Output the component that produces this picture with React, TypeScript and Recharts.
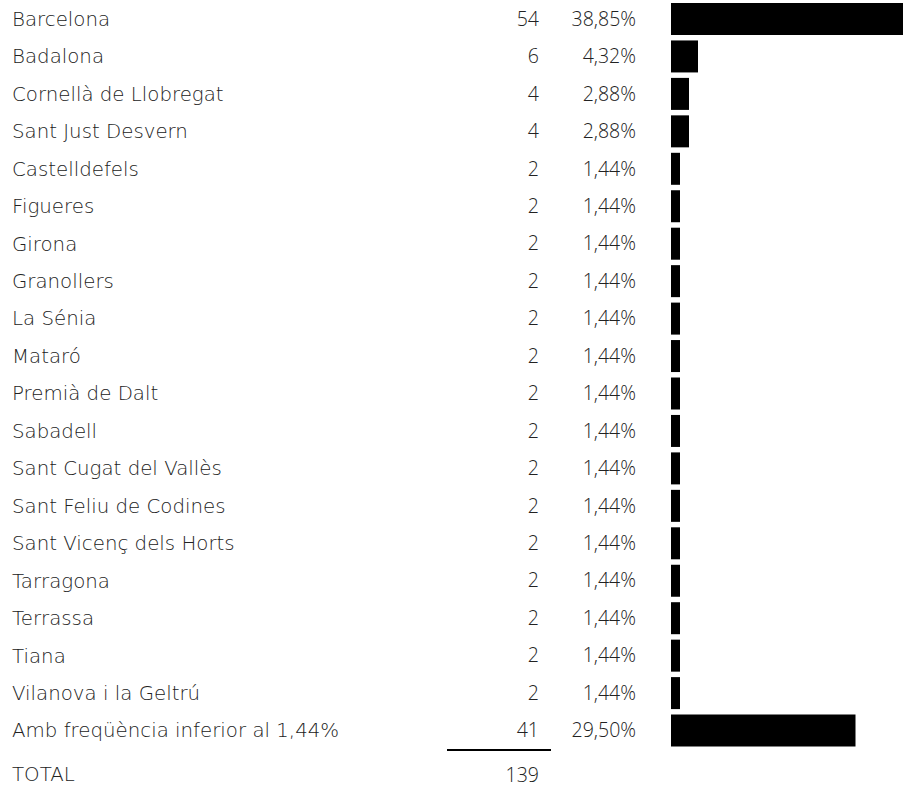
import { Bar, BarChart, XAxis, YAxis } from "recharts";

const cities = [
  "Barcelona",
  "Badalona",
  "Cornellà de Llobregat",
  "Sant Just Desvern",
  "Castelldefels",
  "Figueres",
  "Girona",
  "Granollers",
  "La Sénia",
  "Mataró",
  "Premià de Dalt",
  "Sabadell",
  "Sant Cugat del Vallès",
  "Sant Feliu de Codines",
  "Sant Vicenç dels Horts",
  "Tarragona",
  "Terrassa",
  "Tiana",
  "Vilanova i la Geltrú",
  "Amb freqüència inferior al 1,44%",
];
const counts = [54, 6, 4, 4, 2, 2, 2, 2, 2, 2, 2, 2, 2, 2, 2, 2, 2, 2, 2, 41];
const percents = [
  38.85, 4.32, 2.88, 2.88, 1.44, 1.44, 1.44, 1.44, 1.44, 1.44, 1.44, 1.44, 1.44,
  1.44, 1.44, 1.44, 1.44, 1.44, 1.44, 29.5,
];
const totalLabel = "TOTAL";
const totalCount = 139;

const rows = cities.map((name, i) => ({ name, count: counts[i], pct: percents[i] }));

const fmtPct = (v: number) => v.toFixed(2).replace(".", ",") + "%";

const LABEL_FONT = "'DejaVu Sans', sans-serif";
const NUM_FONT = "'Open Sans', sans-serif";
const TEXT = "#222";

function RowTick(props: any) {
  const { y, payload } = props;
  const row = rows[payload.index];
  if (!row) return null;
  return (
    <g>
      <text x={12} y={y} dy="0.36em" textAnchor="start" fontFamily={LABEL_FONT} fontSize={19.8} fontWeight={300} fill={TEXT}>
        {row.name}
      </text>
      <text x={539} y={y} dy="0.36em" textAnchor="end" fontFamily={NUM_FONT} fontSize={19.5} fontWeight={300} fill="#222">
        {row.count}
      </text>
      <text x={636} y={y} dy="0.36em" textAnchor="end" fontFamily={NUM_FONT} fontSize={19.5} fontWeight={300} fill="#222">
        {fmtPct(row.pct)}
      </text>
    </g>
  );
}

export default function App() {
  return (
    <div
      style={{
        position: "absolute",
        left: 0,
        top: 0,
        width: 903,
        height: 787,
        overflow: "hidden",
        background: "#fff",
      }}
    >
      <BarChart
        layout="vertical"
        width={914}
        height={749}
        data={rows}
        margin={{ top: 0, right: 0, left: 0, bottom: 0 }}
      >
        <XAxis type="number" hide domain={[0, 54]} />
        <YAxis
          type="category"
          dataKey="name"
          width={671}
          axisLine={false}
          tickLine={false}
          interval={0}
          tick={<RowTick />}
        />
        <Bar dataKey="count" fill="#000" barSize={32} isAnimationActive={false} />
      </BarChart>
      <div style={{ position: "absolute", left: 447, top: 749, width: 104, height: 2, background: "#000" }} />
      <div
        style={{
          position: "absolute",
          left: 12,
          top: 763,
          fontFamily: LABEL_FONT,
          fontSize: 19.8,
          fontWeight: 300,
          color: TEXT,
          lineHeight: "24px",
        }}
      >
        {totalLabel}
      </div>
      <div
        style={{
          position: "absolute",
          right: 903 - 539,
          top: 763,
          fontFamily: NUM_FONT,
          fontSize: 19.5,
          fontWeight: 300,
          color: "#222",
          lineHeight: "24px",
        }}
      >
        {totalCount}
      </div>
    </div>
  );
}
